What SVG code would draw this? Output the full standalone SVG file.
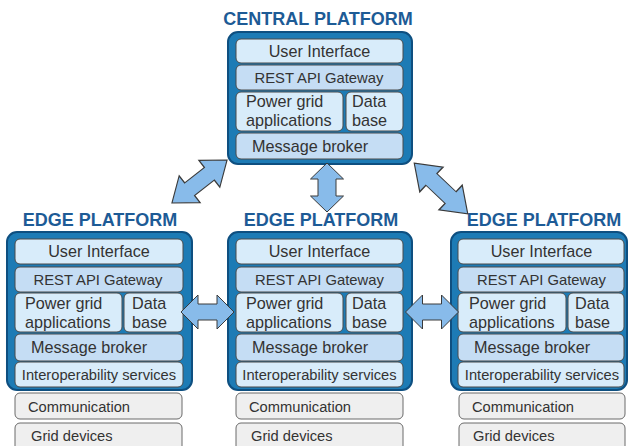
<svg xmlns="http://www.w3.org/2000/svg" width="628" height="446" viewBox="0 0 628 446">
<style>
.outer{fill:#1d7bb5;stroke:#0e4f80;stroke-width:2}
.lt{fill:#d8ecfa;stroke:#4a4a4a;stroke-width:1}
.dk{fill:#c5ddf4;stroke:#4a4a4a;stroke-width:1}
.gr{fill:#efefef;stroke:#6a6a6a;stroke-width:1}
.arr{fill:#88bbea;stroke:#3a3a3a;stroke-width:1}
.title{font-family:"Liberation Sans",Arial,sans-serif;font-weight:bold;font-size:18px;fill:#1d5b96;text-anchor:middle}
.t16{font-family:"Liberation Sans",Arial,sans-serif;font-size:16.2px;fill:#333}
.t14{font-family:"Liberation Sans",Arial,sans-serif;font-size:14.8px;fill:#333}
.t145{font-family:"Liberation Sans",Arial,sans-serif;font-size:14.7px;fill:#333}
.c{text-anchor:middle}
</style>
<defs>
<path id="dbl" d="M -26.5 0 L -9.5 -17 L -9.5 -8 L 9.5 -8 L 9.5 -17 L 26.5 0 L 9.5 17 L 9.5 8 L -9.5 8 L -9.5 17 Z"/>
</defs>

<g id="central">
<text class="title" x="318" y="25">CENTRAL PLATFORM</text>
<rect class="outer" x="228" y="32" width="184" height="132" rx="10"/>
<rect class="lt" x="236" y="39" width="167" height="24" rx="5"/>
<text class="t16 c" x="319.5" y="57">User Interface</text>
<rect class="dk" x="236" y="65" width="167" height="25" rx="5"/>
<text class="t14 c" x="319" y="83">REST API Gateway</text>
<rect class="lt" x="236" y="92" width="107" height="39" rx="5"/>
<text class="t16" x="246" y="107">Power grid</text>
<text class="t16" x="246" y="126">applications</text>
<rect class="lt" x="346" y="92" width="57" height="39" rx="5"/>
<text class="t16" x="352" y="107">Data</text>
<text class="t16" x="352" y="126">base</text>
<rect class="dk" x="236" y="133" width="167" height="26" rx="5"/>
<text class="t16" x="252" y="152">Message broker</text>
</g>

<g id="edge-left">
<text class="title" x="100" y="226">EDGE PLATFORM</text>
<rect class="outer" x="7" y="232" width="185" height="158" rx="10"/>
<rect class="lt" x="15" y="239" width="168" height="25" rx="5"/>
<text class="t16 c" x="99" y="257">User Interface</text>
<rect class="dk" x="15" y="267" width="168" height="25" rx="5"/>
<text class="t14 c" x="98" y="285">REST API Gateway</text>
<rect class="lt" x="15" y="293" width="107" height="39" rx="5"/>
<text class="t16" x="25" y="309">Power grid</text>
<text class="t16" x="25" y="328">applications</text>
<rect class="lt" x="124" y="293" width="59" height="39" rx="5"/>
<text class="t16" x="132" y="309">Data</text>
<text class="t16" x="132" y="328">base</text>
<rect class="dk" x="15" y="334" width="168" height="27" rx="5"/>
<text class="t16" x="31" y="353">Message broker</text>
<rect class="lt" x="15" y="362" width="168" height="25" rx="5"/>
<text class="t145 c" x="99" y="380">Interoperability services</text>
<rect class="gr" x="15" y="393" width="167" height="26" rx="5"/>
<text class="t145" x="28" y="412">Communication</text>
<rect class="gr" x="15" y="423" width="167" height="30" rx="5"/>
<text class="t145" x="31" y="441">Grid devices</text>
</g>

<g id="edge-middle" transform="translate(221,0)">
<text class="title" x="100" y="226">EDGE PLATFORM</text>
<rect class="outer" x="7" y="232" width="184" height="158" rx="10"/>
<rect class="lt" x="15" y="239" width="167" height="25" rx="5"/>
<text class="t16 c" x="98.5" y="257">User Interface</text>
<rect class="dk" x="15" y="267" width="167" height="25" rx="5"/>
<text class="t14 c" x="98.5" y="285">REST API Gateway</text>
<rect class="lt" x="15" y="293" width="107" height="39" rx="5"/>
<text class="t16" x="25" y="309">Power grid</text>
<text class="t16" x="25" y="328">applications</text>
<rect class="lt" x="125" y="293" width="57" height="39" rx="5"/>
<text class="t16" x="131" y="309">Data</text>
<text class="t16" x="131" y="328">base</text>
<rect class="dk" x="15" y="334" width="167" height="27" rx="5"/>
<text class="t16" x="31" y="353">Message broker</text>
<rect class="lt" x="15" y="362" width="167" height="25" rx="5"/>
<text class="t145 c" x="98.5" y="380">Interoperability services</text>
<rect class="gr" x="15" y="393" width="167" height="26" rx="5"/>
<text class="t145" x="28" y="412">Communication</text>
<rect class="gr" x="15" y="423" width="167" height="30" rx="5"/>
<text class="t145" x="30" y="441">Grid devices</text>
</g>

<g id="edge-right">
<text class="title" x="544" y="226">EDGE PLATFORM</text>
<rect class="outer" x="451" y="232" width="176" height="158" rx="10"/>
<rect class="lt" x="458" y="239" width="166" height="25" rx="5"/>
<text class="t16 c" x="541.5" y="257">User Interface</text>
<rect class="dk" x="458" y="267" width="166" height="25" rx="5"/>
<text class="t14 c" x="541.5" y="285">REST API Gateway</text>
<rect class="lt" x="458" y="293" width="108" height="39" rx="5"/>
<text class="t16" x="469" y="309">Power grid</text>
<text class="t16" x="469" y="328">applications</text>
<rect class="lt" x="568" y="293" width="56" height="39" rx="5"/>
<text class="t16" x="575" y="309">Data</text>
<text class="t16" x="575" y="328">base</text>
<rect class="dk" x="458" y="334" width="166" height="27" rx="5"/>
<text class="t16" x="474" y="353">Message broker</text>
<rect class="lt" x="458" y="362" width="166" height="25" rx="5"/>
<text class="t145 c" x="542" y="380">Interoperability services</text>
<rect class="gr" x="459" y="393" width="166" height="26" rx="5"/>
<text class="t145" x="472" y="412">Communication</text>
<rect class="gr" x="459" y="423" width="166" height="30" rx="5"/>
<text class="t145" x="473" y="441">Grid devices</text>
</g>

<g id="connectors">
<use href="#dbl" class="arr" transform="translate(199.5,181.5) rotate(-38) scale(1.32,1)"/>
<path class="arr" d="M 327 163 L 343.5 179 L 336 179 L 336 196 L 343.5 196 L 327 212 L 310.5 196 L 318 196 L 318 179 L 310.5 179 Z"/>
<use href="#dbl" class="arr" transform="translate(441,188.5) rotate(43.4) scale(1.39,1)"/>
<use href="#dbl" class="arr" transform="translate(207.5,312)"/>
<use href="#dbl" class="arr" transform="translate(432,312)"/>
</g>
</svg>
